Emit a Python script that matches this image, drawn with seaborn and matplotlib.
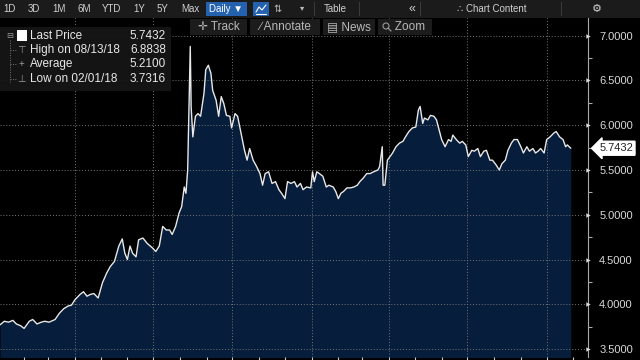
import numpy as np
import pandas as pd
import matplotlib.pyplot as plt
import matplotlib.dates as mdates
from matplotlib.patches import Rectangle, Ellipse
from matplotlib.lines import Line2D
import seaborn as sns

# days since 2018-01-01 and the daily close
days = [3, 8, 13, 18, 22, 27, 31, 37, 41, 46, 51, 55, 60, 67, 72, 77, 82, 86, 90,
        96, 100, 104, 108, 112, 117, 122, 127, 131, 136, 141, 145, 148, 151, 154,
        157, 161, 164, 169, 174, 180, 184, 188, 192, 196, 200, 203, 207, 211, 214,
        217, 219, 221, 224, 225, 227, 230, 233, 236, 240, 242, 245, 248, 250, 254,
        257, 260, 263, 266, 270, 272, 276, 279, 283, 287, 290, 293, 297, 301, 305,
        308, 311, 315, 319, 323, 327, 330, 334, 337, 341, 345, 348, 352, 355, 359,
        364, 366, 368, 371, 374, 378, 382, 385, 390, 393, 396, 399, 402, 406, 410,
        414, 418, 421, 425, 429, 433, 437, 442, 444, 447, 448, 450, 453, 456, 459,
        463, 467, 471, 474, 478, 482, 486, 489, 491, 494, 496, 500, 503, 507, 510,
        513, 516, 520, 524, 527, 529, 533, 537, 540, 544, 547, 551, 554, 558, 561,
        565, 568, 572, 575, 579, 583, 586, 590, 593, 597, 600, 604, 608, 611, 615,
        618, 622, 625, 628, 631, 635, 638, 642, 646, 649, 653, 657, 660, 662, 666]
price = [3.77, 3.81, 3.80, 3.82, 3.78, 3.76, 3.73, 3.81, 3.83, 3.78, 3.80, 3.81, 3.80,
         3.83, 3.90, 3.95, 3.98, 3.99, 4.05, 4.11, 4.14, 4.09, 4.11, 4.12, 4.07, 4.24,
         4.35, 4.42, 4.48, 4.65, 4.73, 4.57, 4.50, 4.65, 4.57, 4.53, 4.72, 4.74, 4.68,
         4.63, 4.59, 4.65, 4.87, 4.83, 4.83, 4.78, 4.87, 5.02, 5.09, 5.31, 5.24, 5.50,
         6.88, 6.21, 5.87, 6.10, 6.13, 6.10, 6.36, 6.62, 6.67, 6.58, 6.39, 6.28, 6.10,
         6.32, 6.24, 6.11, 6.10, 5.97, 6.13, 6.10, 5.91, 5.72, 5.61, 5.74, 5.61, 5.54,
         5.46, 5.33, 5.46, 5.48, 5.35, 5.37, 5.28, 5.24, 5.18, 5.37, 5.35, 5.37, 5.31,
         5.35, 5.28, 5.31, 5.30, 5.48, 5.37, 5.48, 5.46, 5.43, 5.31, 5.33, 5.31, 5.26,
         5.18, 5.24, 5.26, 5.30, 5.30, 5.31, 5.33, 5.37, 5.41, 5.46, 5.46, 5.48, 5.50,
         5.54, 5.76, 5.33, 5.33, 5.61, 5.65, 5.69, 5.76, 5.80, 5.82, 5.87, 5.93, 5.97,
         5.98, 6.17, 6.21, 6.02, 6.08, 6.06, 6.11, 6.10, 6.06, 5.95, 5.84, 5.76, 5.84,
         5.82, 5.89, 5.84, 5.80, 5.82, 5.78, 5.65, 5.72, 5.71, 5.74, 5.65, 5.71, 5.72,
         5.61, 5.61, 5.56, 5.50, 5.57, 5.61, 5.72, 5.80, 5.84, 5.84, 5.76, 5.69, 5.76,
         5.71, 5.74, 5.69, 5.71, 5.74, 5.69, 5.84, 5.87, 5.91, 5.93, 5.87, 5.84, 5.76,
         5.78, 5.7432]

last_price = 5.7432
stat_labels = ["Last Price", "High on 08/13/18", "Average", "Low on 02/01/18"]
stat_values = ["5.7432", "6.8838", "5.2100", "3.7316"]
y_ticks = [3.5, 4.0, 4.5, 5.0, 5.5, 6.0, 6.5, 7.0]
range_buttons = ["1D", "3D", "1M", "6M", "YTD", "1Y", "5Y", "Max"]
tool_buttons = ["\u271b Track", "\u2215 Annotate", "\u25a4 News", "   Zoom"]

df = pd.DataFrame({"date": pd.Timestamp("2018-01-01") + pd.to_timedelta(days, unit="D"),
                   "price": price})

sns.set_style("dark", rc={"axes.facecolor": "black", "figure.facecolor": "black"})
plt.rcParams['font.family'] = ['Liberation Sans', 'DejaVu Sans']

fig = plt.figure(figsize=(6.4, 3.6), dpi=100, facecolor='black')
ax = fig.add_axes([0, 3 / 360, 588 / 640, 339 / 360])
ax.set_facecolor('black')

ax.fill_between(df["date"], df["price"], 3.0, color='#061d3b', lw=0, zorder=1)
sns.lineplot(data=df, x="date", y="price", color='#e8e8e8', lw=1.0, ax=ax, zorder=3)

ax.set_ylim(3.411, 7.198)
ax.set_xlim(df["date"].iloc[0], pd.Timestamp("2019-11-18"))
ax.set_xlabel("")
ax.set_ylabel("")

# y axis on the right
ax.yaxis.tick_right()
ax.set_yticks(y_ticks)
ax.set_yticklabels([f"{v:.4f}" for v in y_ticks], color='#d8d8d8', fontsize=8)
ax.set_yticks(np.arange(3.75, 7.0, 0.5), minor=True)
ax.tick_params(axis='y', which='major', length=0, pad=8, right=True, left=False)
ax.tick_params(axis='y', which='minor', length=3, color='#aaaaaa', width=0.8, right=True, left=False)
ax.scatter([1.0] * len(y_ticks), y_ticks, marker='>', s=10, color='#d8d8d8',
           transform=ax.get_yaxis_transform(), clip_on=False, zorder=5, lw=0)

# x axis: quarterly grid, monthly ticks, no labels
ax.xaxis.set_major_locator(mdates.MonthLocator(bymonth=[1, 4, 7, 10]))
ax.xaxis.set_minor_locator(mdates.MonthLocator())
ax.tick_params(axis='x', which='both', length=3, color='#cccccc', width=0.8,
               labelbottom=False, bottom=True, direction='out')

for s in ["left", "top", "bottom"]:
    ax.spines[s].set_visible(False)
ax.spines["right"].set_color('#aaaaaa')
ax.spines["right"].set_linewidth(0.8)

ax.set_axisbelow(False)
ax.grid(True, which='major', color='#767676', linestyle=(0, (1, 2)), lw=0.7)

ax.annotate(f"{last_price:.4f}", xy=(1.0, last_price), xycoords=ax.get_yaxis_transform(),
            xytext=(8, 0), textcoords='offset points', va='center', ha='left',
            fontsize=8, color='#222222', annotation_clip=False,
            bbox=dict(boxstyle='larrow,pad=0.18', fc='white', ec='white'))


def fx(px):
    return px / 640


def fy(py):
    return 1 - py / 360


def box(x0, y0, x1, y1, color, alpha=1.0):
    fig.add_artist(Rectangle((fx(x0), fy(y1)), (x1 - x0) / 640, (y1 - y0) / 360,
                             transform=fig.transFigure, color=color, alpha=alpha, lw=0))


# toolbar
box(0, 0, 640, 18, '#1b1b1b')
range_x = [10, 34, 59, 84, 112, 139, 162, 190]
for lab, x in zip(range_buttons, range_x):
    fig.text(fx(x), fy(9), lab, ha='center', va='center', color='#d0d0d0', fontsize=7)
box(206, 2, 247, 16, '#2462b0')
fig.text(fx(226), fy(9), "Daily \u25bc", ha='center', va='center', color='white', fontsize=7)
box(253, 2, 269, 16, '#2462b0')
fig.add_artist(Line2D([fx(256), fx(259), fx(262), fx(266)], [fy(12), fy(7), fy(10), fy(5)],
                      transform=fig.transFigure, color='white', lw=0.8))
fig.add_artist(Line2D([fx(256), fx(266)], [fy(14), fy(14)], transform=fig.transFigure,
                      color='white', lw=0.8))
fig.text(fx(278), fy(9), "\u21c5", ha='center', va='center', color='#bbbbbb', fontsize=7)
fig.text(fx(302), fy(9), "\u25be", ha='center', va='center', color='#bbbbbb', fontsize=6)
fig.text(fx(335), fy(9), "Table", ha='center', va='center', color='#d0d0d0', fontsize=7)
fig.text(fx(412), fy(9), "\u00ab", ha='center', va='center', color='#d0d0d0', fontsize=9)
fig.text(fx(492), fy(9), "\u2234 Chart Content", ha='center', va='center', color='#d0d0d0', fontsize=7)
fig.text(fx(597), fy(9), "\u2699", ha='center', va='center', color='#d0d0d0', fontsize=8)
for sx in [314, 359, 420, 561]:
    box(sx, 2, sx + 1, 16, '#3a3a3a')

# track / annotate row
tool_spans = [(190, 247), (250, 320), (323, 375), (378, 432)]
for lab, (x0, x1) in zip(tool_buttons, tool_spans):
    box(x0, 19, x1, 35, '#1c1c1c')
    fig.text(fx((x0 + x1) / 2), fy(27), lab, ha='center', va='center', color='#b8b8b8', fontsize=8.5)
# magnifier icon for the Zoom button
fig.add_artist(Ellipse((fx(386), fy(26)), 6 / 640, 6 / 360, transform=fig.transFigure,
                       fill=False, ec='#999999', lw=0.8))
fig.add_artist(Line2D([fx(388), fx(391)], [fy(28), fy(31)], transform=fig.transFigure,
                      color='#999999', lw=0.9))

# legend panel
box(0, 27, 171, 91, '#161616', alpha=0.95)
row_y = [36, 50, 64, 78.5]
box(17, 30, 27, 41, 'white')
fig.add_artist(Line2D([fx(10), fx(10)], [fy(40), fy(82)], transform=fig.transFigure,
                      color='#777777', lw=0.7, linestyle=(0, (1, 1.5))))
for y in row_y[1:]:
    fig.add_artist(Line2D([fx(10), fx(16)], [fy(y), fy(y)], transform=fig.transFigure,
                          color='#777777', lw=0.7, linestyle=(0, (1, 1.5))))
fig.text(fx(10), fy(36), "\u229f", ha='center', va='center', color='#999999', fontsize=6)
fig.text(fx(21), fy(50), "\u22a4", ha='center', va='center', color='#999999', fontsize=7)
fig.text(fx(21), fy(64), "+", ha='center', va='center', color='#999999', fontsize=7)
fig.text(fx(21), fy(78.5), "\u22a5", ha='center', va='center', color='#999999', fontsize=7)
for lab, val, y in zip(stat_labels, stat_values, row_y):
    fig.text(fx(30), fy(y), lab, ha='left', va='center', color='#e8e8e8', fontsize=8.5)
    fig.text(fx(166), fy(y), val, ha='right', va='center', color='#e8e8e8', fontsize=8.5)

plt.savefig("out.png", dpi=100, facecolor='black')
